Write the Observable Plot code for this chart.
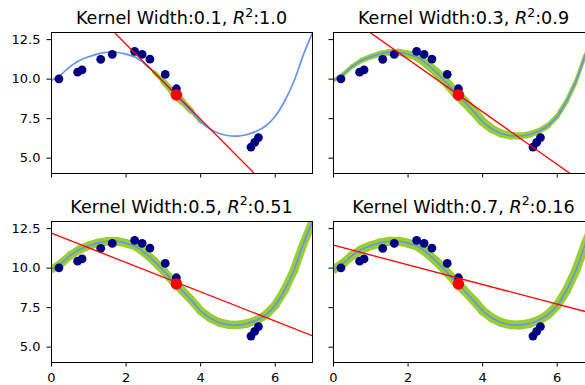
<!DOCTYPE html>
<html><head><meta charset="utf-8">
<script src="https://cdn.jsdelivr.net/npm/d3@7"></script>
<script src="https://cdn.jsdelivr.net/npm/@observablehq/plot@0.6"></script>
<style>
html,body{margin:0;padding:0;background:#fff;overflow:hidden;}
#fig{position:relative;width:585px;height:385px;overflow:hidden;background:#fff;}
#fig svg{position:absolute;}
</style></head><body><div id="fig"></div>
<script>
// ---- data ----
const curveX = [0,0.25,0.5,0.75,1,1.25,1.5,1.75,2,2.25,2.5,2.75,3,3.25,3.5,3.75,4,4.25,4.5,4.75,5,5.25,5.5,5.75,6,6.25,6.5,6.75,7];
const curveY = [9.92,10.28,10.8,11.18,11.42,11.6,11.7,11.7,11.58,11.38,10.97,10.45,9.85,9.2,8.6,7.98,7.3,6.85,6.56,6.42,6.4,6.5,6.7,7.05,7.65,8.6,9.85,11.5,12.94];
const pointsX = [0.2,0.7,0.82,1.32,1.63,2.23,2.43,2.64,3.05,3.35,5.35,5.45,5.55];
const pointsY = [10.02,10.44,10.59,11.25,11.57,11.76,11.57,11.27,10.3,9.39,5.7,6.0,6.3];
const instanceX = [3.35];
const instanceY = [9.0];
const kernelWidths = ["0.1","0.3","0.5","0.7"];
const r2Labels = ["1.0","0.9","0.51","0.16"];
const fitAtX0 = [16.96,14.58,12.21,11.45];
const fitAtX7 = [0.33,2.94,5.72,7.10];
const fitX = [0,7];
const greenW1 = [0,0,0,0,0,0,0,0,0,0,1,3,5,7.5,7.5,5,2,0,0,0,0,0,0,0,0,0,0,0,0];
const greenW2 = [3.5,4,4.5,5,5.5,6,6.5,7,7.5,8,8.5,9,9.5,10,10,9.5,9,8.5,8,7.5,7,6.5,6,5.5,5,4.5,4,3.5,3];
const greenW3 = [8,8,8.5,8.5,8.5,8.5,8.5,8.5,8.5,8.5,8.5,8.5,8.5,8.5,8.5,8.5,8.5,8.5,8.5,8.5,8.5,8.5,8.5,8.5,8.5,8.5,8.5,8.5,8];
const greenW4 = [9,9,9,9,9,9,9,9,9,9,9,9,9,9,9,9,9,9,9,9,9,9,9,9,9,9,9,9,9];
const greenWidths = [greenW1, greenW2, greenW3, greenW4];
const xTicks = [0,2,4,6];
const yTicks = [5,7.5,10,12.5];

// ---- layout ----
const fig = document.getElementById("fig");
const frameLeft = [51,333,51,333];
const frameTop = [32,32,221,221];
const frameW = 261, frameH = 141;
const mL = 45, mT = 32, mR = 5, mB = 30;

const curve = curveX.map((x,i)=>({x, y:curveY[i]}));
const pts = pointsX.map((x,i)=>({x, y:pointsY[i]}));
const inst = instanceX.map((x,i)=>({x, y:instanceY[i]}));

for (let p = 0; p < 4; p++) {
  const gw = greenWidths[p];
  const segs = [];
  for (let i = 0; i < curveX.length - 1; i++) {
    const w = (gw[i] + gw[i+1]) / 2;
    if (w > 0) segs.push({x1:curveX[i], y1:curveY[i], x2:curveX[i+1], y2:curveY[i+1], w});
  }
  const fit = [{x:fitX[0], y:fitAtX0[p]}, {x:fitX[1], y:fitAtX7[p]}];
  const bottomRow = p >= 2, leftCol = p % 2 === 0;
  const svg = Plot.plot({
    width: mL + frameW + mR,
    height: mT + frameH + mB,
    marginLeft: mL, marginTop: mT, marginRight: mR, marginBottom: mB,
    style: {background: "transparent", maxWidth: "none", overflow: "visible", fontFamily: "DejaVu Sans", fontSize: "13px", color: "black"},
    x: {domain: [0,7]},
    y: {domain: [4.03,12.95]},
    marks: [
      Plot.link(segs, {x1:"x1", y1:"y1", x2:"x2", y2:"y2", stroke:"#9acd32", strokeWidth:"w", strokeLinecap:"round", clip:true}),
      Plot.line(curve, {x:"x", y:"y", stroke:"#6495ed", strokeWidth:1.7, curve:"catmull-rom", clip:true}),
      Plot.dot(pts, {x:"x", y:"y", r:4.4, fill:"#000080", stroke:"none"}),
      Plot.line(fit, {x:"x", y:"y", stroke:"red", strokeWidth:1.3, clip:true}),
      Plot.dot(inst, {x:"x", y:"y", r:5.8, fill:"red", stroke:"none"}),
      Plot.frame({stroke:"black", strokeWidth:1}),
      Plot.axisX({ticks: xTicks, tickSize: 4.5, tickPadding: 6, label: null, stroke:"black", fill:"black",
        tickFormat: bottomRow ? (d => String(d)) : (() => "")}),
      Plot.axisY({ticks: yTicks, tickSize: 4.5, tickPadding: 6.5, label: null, stroke:"black", fill:"black",
        tickFormat: leftCol ? d3.format(".1f") : (() => "")})
    ]
  });
  svg.style.left = (frameLeft[p] - mL) + "px";
  svg.style.top = (frameTop[p] - mT) + "px";
  fig.appendChild(svg);
}

// ---- titles ----
const ov = d3.select(fig).append("svg").attr("width",585).attr("height",385).style("left","0px").style("top","0px");
const titleBase = [24,24,212.5,212.5];
for (let p = 0; p < 4; p++) {
  const t = ov.append("text")
    .attr("x", frameLeft[p] + frameW/2).attr("y", titleBase[p])
    .attr("text-anchor","middle").attr("font-family","DejaVu Sans").attr("font-size","17.6px").attr("fill","black");
  t.append("tspan").text("Kernel Width:" + kernelWidths[p] + ", ");
  t.append("tspan").attr("font-style","italic").text("R");
  t.append("tspan").attr("font-size","12.5px").attr("dy","-7.3").text("2");
  t.append("tspan").attr("dy","7.3").text(":" + r2Labels[p]);
}
</script></body></html>
